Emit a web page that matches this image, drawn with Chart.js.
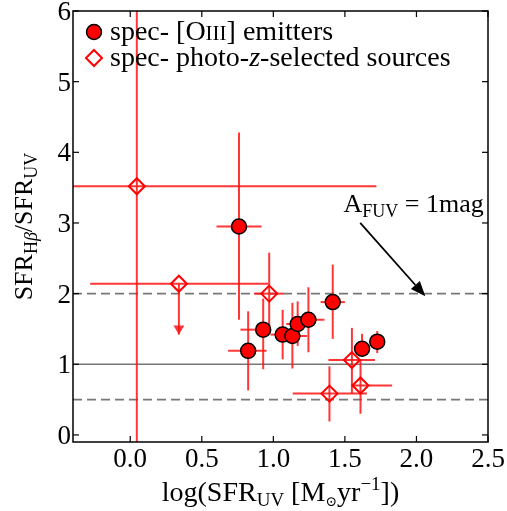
<!DOCTYPE html>
<html>
<head>
<meta charset="utf-8">
<script src="https://cdn.jsdelivr.net/npm/chart.js@4/dist/chart.umd.min.js"></script>
<style>
html, body { margin: 0; padding: 0; background: #fff; }
</style>
</head>
<body>
<canvas id="sfrChart" width="507" height="511"></canvas>
<script>
// spec- [OIII] emitters (filled circles)
const emitX   = [0.760, 0.824, 0.929, 1.065, 1.133, 1.170, 1.245, 1.415, 1.620, 1.726];
const emitY   = [2.95, 1.19, 1.49, 1.42, 1.40, 1.57, 1.63, 1.88, 1.22, 1.32];
const emitXlo = [0.603, 0.684, 0.770, 0.980, 1.030, 1.090, 1.130, 1.330, 1.570, 1.726];
const emitXhi = [0.918, 0.953, 0.976, 1.140, 1.236, 1.250, 1.357, 1.500, 1.665, 1.726];
const emitYlo = [1.63, 0.63, 0.93, 1.07, 0.94, 1.26, 1.17, 1.36, 1.11, 1.16];
const emitYhi = [4.28, 1.75, 1.93, 1.77, 1.87, 1.89, 2.09, 2.41, 1.43, 1.47];

// spec- photo-z-selected sources (open diamonds)
const photoX   = [0.046, 0.340, 0.971, 1.549, 1.392, 1.609];
const photoY   = [3.52, 2.14, 2.00, 1.06, 0.585, 0.70];
const photoXlo = [-0.60, -0.28, 0.865, 1.385, 1.135, 1.544];
const photoXhi = [1.72, 0.964, 1.07, 1.71, 1.654, 1.83];
const photoYlo = [-0.50, 1.42, 1.50, 0.585, 0.19, 0.30];
const photoYhi = [7.00, 2.14, 2.58, 1.515, 0.97, 1.07];
const photoUpperLimit = [false, true, false, false, false, false];

// reference levels
const dashedLevels = [2.0, 0.5];
const solidLevels = [1.0];

// axes
const xTicks = [0.0, 0.5, 1.0, 1.5, 2.0, 2.5];
const yTicks = [0, 1, 2, 3, 4, 5, 6];

// A_FUV annotation (data coords)
const noteAt = { x: 1.49, y: 3.15 };
const arrowFrom = { x: 1.607, y: 3.00 };
const arrowTo = { x: 2.062, y: 1.963 };

const SERIF = 'Liberation Serif';
const errColor = 'rgba(255, 20, 20, 0.85)';

function fontOf(size, italic) {
  return (italic ? 'italic ' : '') + size + 'px "' + SERIF + '", "DejaVu Serif", serif';
}

// draw text made of parts with different sizes / offsets
function drawRich(ctx, parts, x, y, align) {
  let w = 0;
  parts.forEach(p => {
    ctx.font = fontOf(p.s, p.i);
    p.w = ctx.measureText(p.t).width;
    w += p.w;
  });
  let cx = align === 'center' ? x - w / 2 : x;
  parts.forEach(p => {
    ctx.font = fontOf(p.s, p.i);
    ctx.fillText(p.t, cx, y + (p.dy || 0));
    cx += p.w;
  });
  return w;
}

function segment(ctx, x1, y1, x2, y2) {
  ctx.beginPath();
  ctx.moveTo(x1, y1);
  ctx.lineTo(x2, y2);
  ctx.stroke();
}

const sfrExtras = {
  id: 'sfrExtras',
  beforeDatasetsDraw(chart) {
    const { ctx, chartArea: a, scales: { x, y } } = chart;
    ctx.save();
    ctx.beginPath();
    ctx.rect(a.left, a.top, a.right - a.left, a.bottom - a.top);
    ctx.clip();

    // reference lines
    ctx.strokeStyle = '#777';
    ctx.lineWidth = 1.6;
    ctx.setLineDash([9, 5]);
    dashedLevels.forEach(v => segment(ctx, a.left, y.getPixelForValue(v), a.right, y.getPixelForValue(v)));
    ctx.setLineDash([]);
    solidLevels.forEach(v => segment(ctx, a.left, y.getPixelForValue(v), a.right, y.getPixelForValue(v)));

    // error bars
    ctx.strokeStyle = errColor;
    ctx.lineWidth = 2;
    const bars = (xs, ys, xlo, xhi, ylo, yhi) => {
      xs.forEach((xv, i) => {
        const px = x.getPixelForValue(xv), py = y.getPixelForValue(ys[i]);
        segment(ctx, x.getPixelForValue(xlo[i]), py, x.getPixelForValue(xhi[i]), py);
        segment(ctx, px, y.getPixelForValue(ylo[i]), px, y.getPixelForValue(yhi[i]));
      });
    };
    bars(emitX, emitY, emitXlo, emitXhi, emitYlo, emitYhi);
    bars(photoX, photoY, photoXlo, photoXhi, photoYlo, photoYhi);

    // upper limit arrow heads
    ctx.fillStyle = errColor;
    photoX.forEach((xv, i) => {
      if (!photoUpperLimit[i]) return;
      const px = x.getPixelForValue(xv), tip = y.getPixelForValue(photoYlo[i]);
      ctx.beginPath();
      ctx.moveTo(px, tip);
      ctx.lineTo(px - 5.5, tip - 9);
      ctx.lineTo(px + 5.5, tip - 9);
      ctx.closePath();
      ctx.fill();
    });
    ctx.restore();
  },
  afterDraw(chart) {
    const { ctx, chartArea: a, scales: { x, y } } = chart;
    ctx.save();

    // frame and inward ticks
    ctx.strokeStyle = '#000';
    ctx.lineWidth = 1.5;
    ctx.strokeRect(a.left, a.top, a.right - a.left, a.bottom - a.top);
    ctx.lineWidth = 1.2;
    const tl = 6;
    xTicks.forEach(v => {
      const px = x.getPixelForValue(v);
      segment(ctx, px, a.bottom, px, a.bottom - tl);
      segment(ctx, px, a.top, px, a.top + tl);
    });
    yTicks.forEach(v => {
      const py = y.getPixelForValue(v);
      segment(ctx, a.left, py, a.left + tl, py);
      segment(ctx, a.right, py, a.right - tl, py);
    });

    // tick labels
    ctx.fillStyle = '#000';
    ctx.textBaseline = 'alphabetic';
    ctx.font = fontOf(27);
    ctx.textAlign = 'center';
    xTicks.forEach(v => ctx.fillText(v.toFixed(1), x.getPixelForValue(v), a.bottom + 25));
    ctx.textAlign = 'right';
    yTicks.forEach(v => ctx.fillText(String(v), a.left - 2, y.getPixelForValue(v) + 9));
    ctx.textAlign = 'left';

    // x title
    drawRich(ctx, [
      { t: 'log(SFR', s: 28 },
      { t: 'UV', s: 19, dy: 5 },
      { t: ' [M', s: 28 },
      { t: '\u2299', s: 14, dy: 5 },
      { t: 'yr', s: 28 },
      { t: '\u22121', s: 19, dy: -11 },
      { t: '])', s: 28 }
    ], (a.left + a.right) / 2, 501, 'center');

    // y title (rotated)
    ctx.save();
    ctx.translate(32, (a.top + a.bottom) / 2);
    ctx.rotate(-Math.PI / 2);
    drawRich(ctx, [
      { t: 'SFR', s: 26 },
      { t: 'H', s: 18, dy: 5 },
      { t: '\u03b2', s: 18, dy: 5, i: true },
      { t: '/SFR', s: 26 },
      { t: 'UV', s: 18, dy: 5 }
    ], 0, 0, 'center');
    ctx.restore();

    // legend
    const lx = a.left + 21, ly1 = a.top + 21, ly2 = a.top + 47;
    ctx.beginPath();
    ctx.arc(lx, ly1, 7.5, 0, Math.PI * 2);
    ctx.fillStyle = '#ff0000';
    ctx.fill();
    ctx.lineWidth = 1.5;
    ctx.strokeStyle = '#000';
    ctx.stroke();
    ctx.beginPath();
    ctx.moveTo(lx - 8, ly2);
    ctx.lineTo(lx, ly2 - 8);
    ctx.lineTo(lx + 8, ly2);
    ctx.lineTo(lx, ly2 + 8);
    ctx.closePath();
    ctx.lineWidth = 2;
    ctx.strokeStyle = '#ff0000';
    ctx.stroke();
    ctx.fillStyle = '#000';
    drawRich(ctx, [
      { t: 'spec- [O', s: 28 },
      { t: 'III', s: 21 },
      { t: '] emitters', s: 28 }
    ], lx + 16, ly1 + 8, 'left');
    drawRich(ctx, [
      { t: 'spec- photo-', s: 28 },
      { t: 'z', s: 28, i: true },
      { t: '-selected sources', s: 28 }
    ], lx + 16, ly2 + 8, 'left');

    // A_FUV annotation
    drawRich(ctx, [
      { t: 'A', s: 26 },
      { t: 'FUV', s: 18, dy: 5 },
      { t: ' = 1mag', s: 26 }
    ], x.getPixelForValue(noteAt.x), y.getPixelForValue(noteAt.y), 'left');

    const ax1 = x.getPixelForValue(arrowFrom.x), ay1 = y.getPixelForValue(arrowFrom.y);
    const ax2 = x.getPixelForValue(arrowTo.x), ay2 = y.getPixelForValue(arrowTo.y);
    const ang = Math.atan2(ay2 - ay1, ax2 - ax1);
    const hl = 15, hw = 6;
    ctx.strokeStyle = '#000';
    ctx.lineWidth = 1.8;
    segment(ctx, ax1, ay1, ax2 - hl * Math.cos(ang), ay2 - hl * Math.sin(ang));
    ctx.beginPath();
    ctx.moveTo(ax2, ay2);
    ctx.lineTo(ax2 - hl * Math.cos(ang) + hw * Math.sin(ang), ay2 - hl * Math.sin(ang) - hw * Math.cos(ang));
    ctx.lineTo(ax2 - hl * Math.cos(ang) - hw * Math.sin(ang), ay2 - hl * Math.sin(ang) + hw * Math.cos(ang));
    ctx.closePath();
    ctx.fillStyle = '#000';
    ctx.fill();

    ctx.restore();
  }
};

const ctx = document.getElementById('sfrChart').getContext('2d');

const sfrChart = new Chart(ctx, {
  type: 'scatter',
  data: {
    datasets: [{
      label: 'spec- [OIII] emitters',
      data: emitX.map((v, i) => ({ x: v, y: emitY[i] })),
      pointStyle: 'circle',
      pointRadius: 7.5,
      backgroundColor: '#ff0000',
      borderColor: '#000',
      borderWidth: 1.5
    }, {
      label: 'spec- photo-z-selected sources',
      data: photoX.map((v, i) => ({ x: v, y: photoY[i] })),
      pointStyle: 'rectRot',
      pointRadius: 8,
      backgroundColor: 'rgba(0,0,0,0)',
      borderColor: '#ff0000',
      borderWidth: 2
    }]
  },
  options: {
    responsive: false,
    animation: false,
    layout: { padding: { top: 11, right: 19, left: 0, bottom: 0 } },
    plugins: { legend: { display: false }, tooltip: { enabled: false } },
    scales: {
      x: {
        type: 'linear',
        min: -0.4,
        max: 2.5,
        afterBuildTicks: s => { s.ticks = xTicks.map(v => ({ value: v })); },
        afterFit: s => { s.height = 69; },
        grid: { display: false, drawTicks: false },
        border: { display: false },
        ticks: { display: false }
      },
      y: {
        type: 'linear',
        min: -0.1,
        max: 6,
        afterBuildTicks: s => { s.ticks = yTicks.map(v => ({ value: v })); },
        afterFit: s => { s.width = 73; },
        grid: { display: false, drawTicks: false },
        border: { display: false },
        ticks: { display: false }
      }
    }
  },
  plugins: [sfrExtras]
});
</script>
</body>
</html>
